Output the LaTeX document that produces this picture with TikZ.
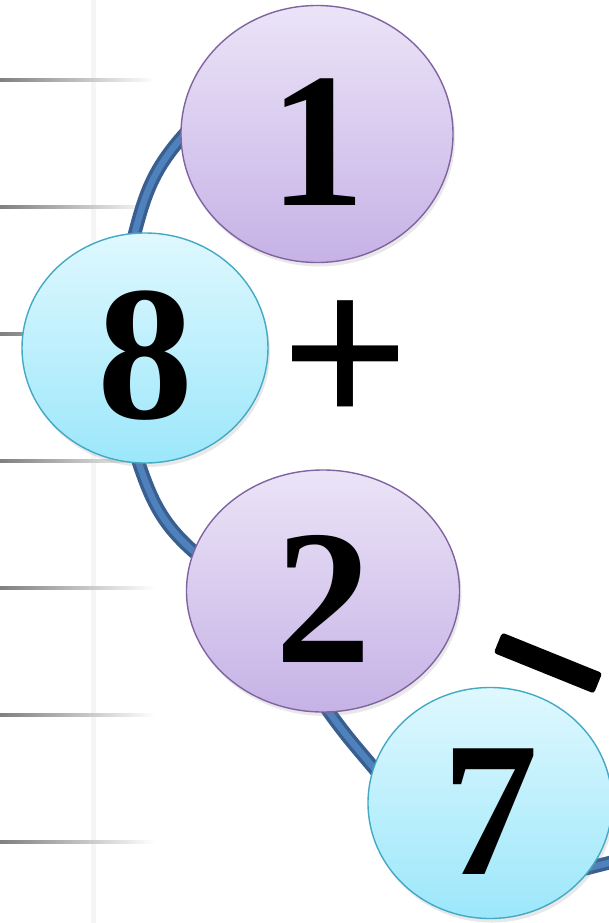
\documentclass[tikz,border=0pt]{standalone}
\usepackage{fontspec}
\setmainfont{Liberation Serif}
\usetikzlibrary{shapes.geometric,shadows,backgrounds}

\definecolor{lilacline}{HTML}{8064A2}
\definecolor{lilactop}{HTML}{EBE4F7}
\definecolor{lilacbot}{HTML}{C6B2E6}
\definecolor{aqualine}{HTML}{43A9C4}
\definecolor{aquatop}{HTML}{DFF8FE}
\definecolor{aquabot}{HTML}{9CE7FB}
\definecolor{conndark}{HTML}{385F8F}
\definecolor{connblue}{HTML}{4F81BD}

\newcommand{\bignum}{\fontsize{192}{192}\selectfont\bfseries}
\newcommand{\opfont}{\fontsize{228}{228}\selectfont\bfseries}

\tikzset{
  ball/.style={ellipse, line width=1.4pt, inner sep=0pt, font=\bignum, text height=142pt,
    drop shadow={opacity=0.18, shadow xshift=2pt, shadow yshift=-4pt}},
  lilac/.style={ball, draw=lilacline, top color=lilactop, bottom color=lilacbot},
  aqua/.style={ball, draw=aqualine, top color=aquatop, bottom color=aquabot},
  conn/.style={draw=conndark, line width=3.5pt, double=connblue, double distance=6.5pt,
    shorten <=-8pt, shorten >=-8pt},
  minusbar/.style={rectangle, fill=black, rounded corners=3pt, inner sep=0pt,
    minimum width=108pt, minimum height=22pt, rotate=-22}
}

\begin{document}
\begin{tikzpicture}[x=1pt, y=1pt]
  \useasboundingbox (0,0) rectangle (609,-923);

  % the numbers
  \node[lilac, minimum width=272pt, minimum height=257pt] (n1) at (317,-134) {1};
  \node[aqua, minimum width=246pt, minimum height=230pt] (n8) at (145,-348) {8};
  \node[lilac, minimum width=273pt, minimum height=242pt] (n2) at (323,-591) {2};
  \node[aqua, minimum width=244pt, minimum height=231pt] (n7) at (490,-803) {7};

  % the signs
  \node[font=\opfont, inner sep=0pt] (plus) at (345,-365) {+};
  \node[minusbar] (minus) at (548,-663) {};

  \coordinate (tail) at (616,-861);

  \begin{scope}[on background layer]
    % ruled paper
    \fill[white] (0,0) rectangle (609,-923);
    \fill[black!4] (91,0) rectangle (96,-923);
    \foreach \y in {80,207,...,843}
      \shade[left color=black!50, right color=white] (0,-\y-1.5) rectangle (155,-\y+1.5);
    % links
    \path[conn] (n8.95) to[out=76, in=228] (n1.182);
    \path[conn] (n8.267) to[out=-72, in=140] (n2.163);
    \path[conn] (n2.273) to[out=-55, in=130] (n7.163);
    \path[conn] (n7.-32) -- (tail);
  \end{scope}
\end{tikzpicture}
\end{document}
